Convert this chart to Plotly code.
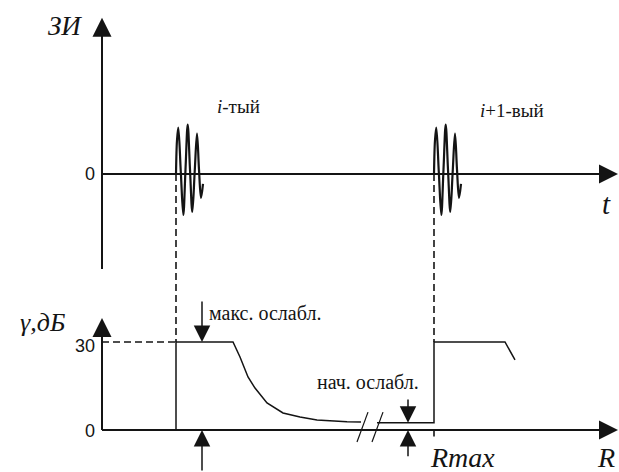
import plotly.graph_objects as go

# ---- geometry of the two panels (x: common horizontal scale, arbitrary units) ----
X_RANGE = [-102, 517]
SIG_RANGE = [-6.6222, 3.8667]      # top panel: pulse amplitude (ЗИ)
DB_RANGE = [-14.318, 146.591]      # bottom panel: attenuation, dB

# ---- pulse shape (offsets from pulse start, amplitude) ----
PULSE_DT = [0, 1.0, 2.3, 4.8, 7.3, 9.5, 11.7, 14.0, 16.3, 18.7, 21.0, 23.0, 25.0, 27.0]
PULSE_AMP = [0, 0.75, 1.03, 0.05, -0.91, 0.1, 1.10, 0.1, -0.84, 0.05, 0.90, 0.1, -0.53, -0.22]
PULSE_START = [74, 332]
PULSE_LABELS = ["<i>i</i>-тый", "<i>i</i>+1-вый"]
PULSE_LABEL_X = [113, 376]
PULSE_LABEL_SIG = [1.49, 1.42]

# ---- attenuation profile γ(R) ----
PROFILE_A_R = [74, 74, 131, 138, 146, 153, 165, 181, 198, 215, 245, 259]
PROFILE_A_DB = [0, 30, 30, 24.9, 18.1, 14.3, 9.2, 5.8, 4.4, 3.4, 2.8, 2.7]
PROFILE_B_R = [275, 332, 332, 403, 413]
PROFILE_B_DB = [2.5, 2.5, 30, 30, 23.9]
MAX_ATT_DB = 30
MIN_ATT_DB = 2.5
MAX_ATT_R = 100
MIN_ATT_R = 306
BREAK_R = [[255, 266], [270, 281]]
BREAK_DB = [-4.1, 6.1]

INK = "#141414"
SERIF = "Times New Roman"
SANS = "Arial"


def sig_to_db(v):
    f = (v - SIG_RANGE[0]) / (SIG_RANGE[1] - SIG_RANGE[0])
    return DB_RANGE[0] + f * (DB_RANGE[1] - DB_RANGE[0])


fig = go.Figure()


def line(xs, ys, axis="y", width=1.5, dash=None, shape="linear", color=INK):
    fig.add_trace(go.Scatter(
        x=xs, y=ys, mode="lines", yaxis=axis, hoverinfo="skip",
        line=dict(color=color, width=width, dash=dash, shape=shape),
        showlegend=False))


# top panel axes
line([0, 0], [-2.11, 3.2], width=2)
line([0, 505], [0, 0], width=2)

# pulses
for s in PULSE_START:
    line([s + d for d in PULSE_DT], PULSE_AMP, width=2.2, shape="spline")

# synchronisation dashes from each pulse down to the profile
for s in PULSE_START:
    line([s, s], [sig_to_db(0), MAX_ATT_DB], axis="y2", width=1.6, dash="7px,4px")
line([PULSE_START[1], PULSE_START[1]], [0, -2.2], axis="y2", width=1.6)
line([0, PULSE_START[0]], [MAX_ATT_DB, MAX_ATT_DB], axis="y2", width=1.5, dash="7px,4px")

# bottom panel axes
line([0, 0], [0, 34], axis="y2", width=2)
line([0, 505], [0, 0], axis="y2", width=2)

# attenuation profile
line(PROFILE_A_R, PROFILE_A_DB, axis="y2", width=1.5)
line(PROFILE_B_R, PROFILE_B_DB, axis="y2", width=1.5)
for br in BREAK_R:
    line(br, BREAK_DB, axis="y2", width=1.2)


def label(x, y, text, yref="y", size=14, serif=True, xanchor="center"):
    fig.add_annotation(
        x=x, y=y, xref="x", yref=yref, text=text, showarrow=False,
        xanchor=xanchor, yanchor="middle",
        font=dict(family=SERIF if serif else SANS, size=size, color=INK))


label(-37, 3.3, "<i>ЗИ</i>", size=27)
label(-5, 0, "0", size=18, serif=False, xanchor="right")
label(504, -0.66, "<i>t</i>", size=29)
for lx, ly, lt in zip(PULSE_LABEL_X, PULSE_LABEL_SIG, PULSE_LABELS):
    label(lx, ly, lt, size=19, xanchor="left")

label(-60, 36.8, "<i>γ,дБ</i>", yref="y2", size=26)
label(-5, 28.6, "30", yref="y2", size=18, serif=False, xanchor="right")
label(-5, -0.4, "0", yref="y2", size=18, serif=False, xanchor="right")
label(105, 40.0, "макс. ослабл.", yref="y2", size=20, xanchor="left")
label(213, 16.2, "нач. ослабл.", yref="y2", size=20, xanchor="left")
label(360, -9.5, "<i>Rmax</i>", yref="y2", size=28)
label(504, -9.5, "<i>R</i>", yref="y2", size=28)


def arrow(x, y, ax, ay, yref="y2", width=1.5, size=2.2):
    fig.add_annotation(
        x=x, y=y, ax=ax, ay=ay, xref="x", yref=yref, axref="x", ayref=yref,
        text="", showarrow=True, arrowhead=2, arrowsize=size,
        arrowwidth=width, arrowcolor=INK, standoff=0,
        font=dict(family=SERIF, size=10))


# axis arrow heads
arrow(0, 3.47, 0, 2.6, yref="y", width=2, size=1.9)
arrow(516, 0, 490, 0, yref="y", width=2, size=1.9)
arrow(0, 38.2, 0, 28, width=2, size=1.9)
arrow(516, 0, 490, 0, width=2, size=1.9)

# attenuation markers
arrow(MAX_ATT_R, MAX_ATT_DB, MAX_ATT_R, 44.3)
arrow(MAX_ATT_R, 0, MAX_ATT_R, -14.3)
arrow(MIN_ATT_R, MIN_ATT_DB, MIN_ATT_R, 10.9)
arrow(MIN_ATT_R, 0, MIN_ATT_R, -9.5)

fig.update_layout(
    width=619, height=472,
    margin=dict(l=0, r=0, t=0, b=0),
    font=dict(family=SERIF, color=INK),
    paper_bgcolor="white", plot_bgcolor="white",
    xaxis=dict(range=X_RANGE, visible=False, fixedrange=True),
    yaxis=dict(range=SIG_RANGE, visible=False, fixedrange=True),
    yaxis2=dict(range=DB_RANGE, visible=False, overlaying="y", fixedrange=True),
    showlegend=False,
)

fig.write_html("out.html")
